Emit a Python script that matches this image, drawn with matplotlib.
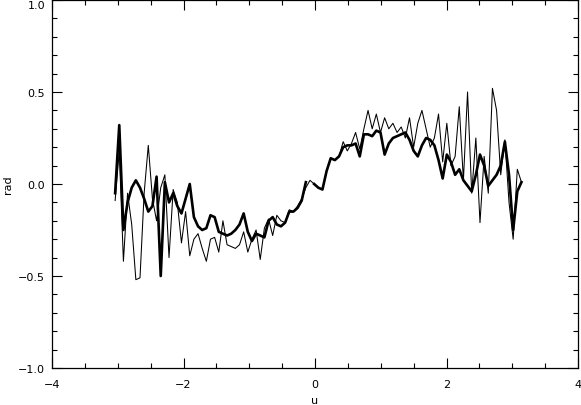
import matplotlib
matplotlib.use("Agg")
import matplotlib.pyplot as plt
from matplotlib.ticker import MultipleLocator
import numpy as np

# sampling grid in u (evenly spaced: -3.04 .. 3.14)
u_start, u_end, n_pts = -3.04, 3.14, 99

# thin curve (raw)
rad_raw = [
    -0.09, 0.18, -0.42, -0.05, -0.22, -0.52, -0.51, -0.05, 0.21, -0.08,
    -0.20, -0.02, 0.05, -0.40, -0.03, -0.10, -0.32, -0.15, -0.39, -0.30,
    -0.27, -0.35, -0.42, -0.30, -0.29, -0.37, -0.20, -0.33, -0.34, -0.35,
    -0.33, -0.26, -0.37, -0.30, -0.25, -0.41, -0.24, -0.19, -0.28, -0.17,
    -0.20, -0.21, -0.14, -0.15, -0.12, -0.08, -0.02, 0.02, 0.00, -0.02,
    -0.03, 0.07, 0.14, 0.13, 0.15, 0.23, 0.18, 0.22, 0.28, 0.19,
    0.30, 0.40, 0.30, 0.38, 0.28, 0.36, 0.30, 0.33, 0.28, 0.31,
    0.25, 0.36, 0.20, 0.33, 0.40, 0.30, 0.20, 0.25, 0.38, 0.12,
    0.33, 0.10, 0.15, 0.42, 0.02, 0.50, -0.05, 0.25, -0.21, 0.15,
    -0.05, 0.52, 0.40, 0.05, 0.24, -0.10, -0.30, 0.08, 0.01,
]

# thick curve (smoothed), gap near u = 0
rad_smooth = [
    -0.05, 0.32, -0.25, -0.10, -0.02, 0.02, -0.02, -0.08, -0.15, -0.12,
    0.04, -0.50, 0.01, -0.10, -0.05, -0.12, -0.16, -0.08, 0.00, -0.18,
    -0.23, -0.25, -0.24, -0.17, -0.18, -0.26, -0.27, -0.28, -0.27, -0.25,
    -0.22, -0.16, -0.26, -0.31, -0.27, -0.28, -0.29, -0.20, -0.18, -0.22,
    -0.23, -0.21, -0.15, -0.15, -0.13, -0.09, 0.01, np.nan, 0.00, -0.02,
    -0.03, 0.07, 0.14, 0.13, 0.15, 0.20, 0.21, 0.21, 0.22, 0.15,
    0.27, 0.27, 0.26, 0.29, 0.28, 0.16, 0.22, 0.25, 0.26, 0.27,
    0.28, 0.24, 0.18, 0.15, 0.21, 0.25, 0.24, 0.21, 0.13, 0.03,
    0.16, 0.12, 0.05, 0.08, 0.02, -0.01, -0.04, 0.05, 0.16, 0.10,
    -0.01, 0.02, 0.05, 0.10, 0.23, 0.05, -0.25, -0.04, 0.01,
]

x_ticks = [-4, -2, 0, 2, 4]
x_labels = ['−4', '−2', '0', '2', '4']
y_ticks = [-1.0, -0.5, 0.0, 0.5, 1.0]
y_labels = ['−1.0', '−0.5', '0.0', '0.5', '1.0']

u = np.linspace(u_start, u_end, n_pts)

plt.rcParams['font.family'] = 'DejaVu Sans'
fig = plt.figure(figsize=(5.81, 4.06), dpi=100)
ax = fig.add_axes([52 / 581, 37 / 406, 526 / 581, 368 / 406])

ax.plot(u, rad_raw, color='black', linewidth=0.75)
ax.plot(u, rad_smooth, color='black', linewidth=1.9)

ax.set_xlim(-4, 4)
ax.set_ylim(-1, 1)
ax.set_xticks(x_ticks, labels=x_labels)
ax.set_yticks(y_ticks, labels=y_labels)
ax.xaxis.set_minor_locator(MultipleLocator(0.5))
ax.yaxis.set_minor_locator(MultipleLocator(0.1))

ax.tick_params(which='both', direction='in', top=True, right=True,
               labelsize=8, width=0.8)
ax.tick_params(which='major', length=7)
ax.tick_params(which='minor', length=3.5)
ax.tick_params(axis='y', which='major', pad=5)
ax.tick_params(axis='x', which='major', pad=8)
for s in ax.spines.values():
    s.set_linewidth(0.9)

# top label sits inside the figure like the original
ax.get_yticklabels()[-1].set_va('top')

ax.set_xlabel('u', fontsize=8, labelpad=4)
ax.set_ylabel('rad', fontsize=8)
ax.yaxis.set_label_coords(-0.074, 0.5)

fig.savefig('out.png', dpi=100)
